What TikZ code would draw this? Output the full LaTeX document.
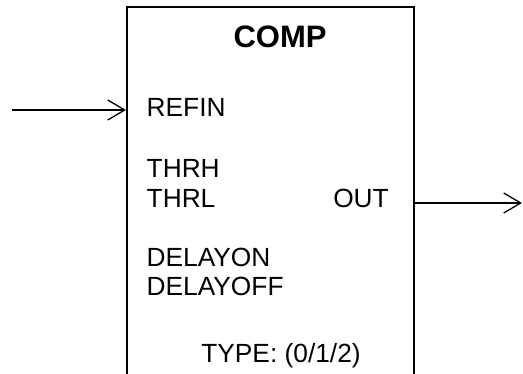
\documentclass[tikz,border=0pt]{standalone}
\usepackage{fontspec}
\setmainfont{Liberation Sans}
\usetikzlibrary{arrows.meta}

\tikzset{signal/.style={-{Straight Barb[length=17pt,width=20pt]},line width=1.3pt},
	portname/.style={inner sep=0pt,font=\fontsize{26.3}{30}\selectfont}}

\begin{document}
\begin{tikzpicture}[x=1pt,y=-1pt] % coordinates in pixels, y downwards
		\newcommand{\portX}{146.5}
		
		\useasboundingbox (0,0) rectangle (523,374);
		\node[draw,line width=2pt,inner sep=0pt,anchor=north west,
			minimum width=287pt,minimum height=420pt] (comp) at (126,6) {};	% block
		
		\node[portname,anchor=base,font=\fontsize{31}{35}\selectfont\bfseries] (title) at (280,48) {COMP};
		
		% inputs
		\node[portname,anchor=base west] (refin) at (\portX,117) {REFIN};
		\node[portname,anchor=base west] (thrh) at (\portX,178) {THRH};
		\node[portname,anchor=base west] (thrl) at (\portX,208) {THRL};
		\node[portname,anchor=base west] (delayon) at (\portX,267) {DELAYON};
		\node[portname,anchor=base west] (delayoff) at (\portX,296) {DELAYOFF};
		
		% output
		\node[portname,anchor=base east] (out) at (389,208) {OUT};
		
		\node[portname,anchor=base] (type) at (281,363) {TYPE: (0/1/2)};
		
		% signals
		\coordinate (src) at (12,110);
		\coordinate (dst) at (522,203);
		\draw[signal] (src) -- (src -| comp.west);
		\draw[signal] (comp.east |- dst) -- (dst);
\end{tikzpicture}
\end{document}
